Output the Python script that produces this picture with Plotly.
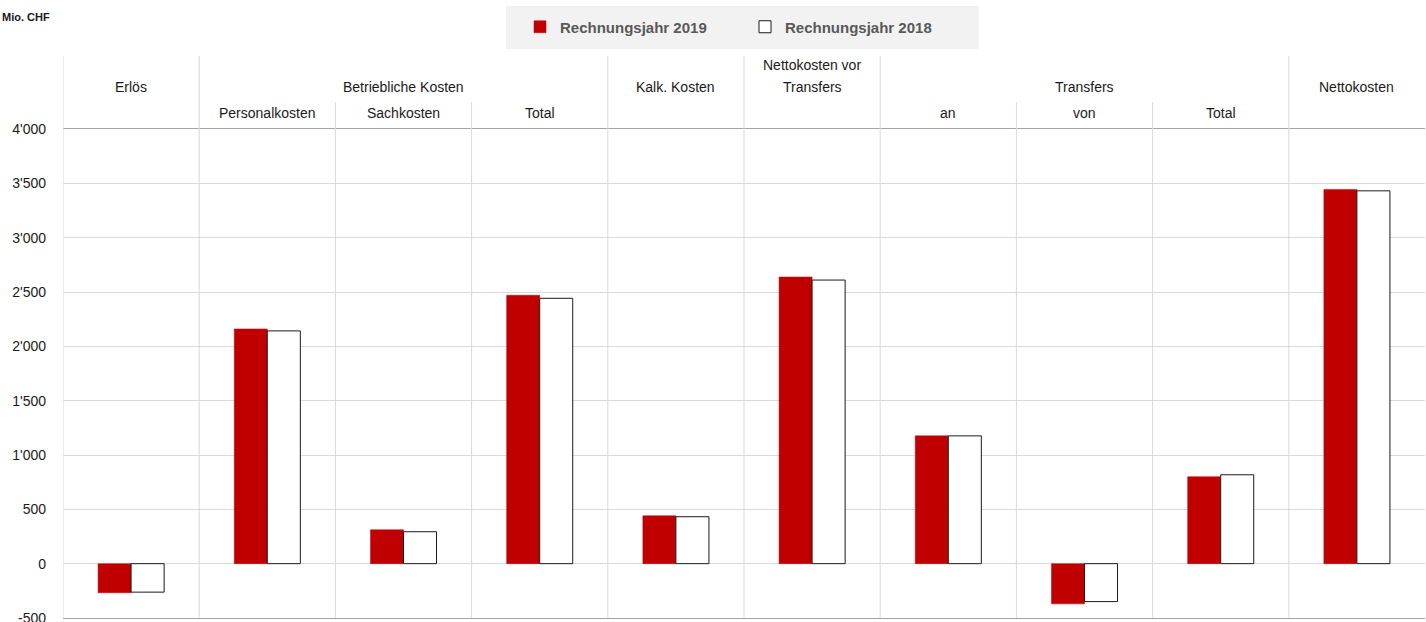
import plotly.graph_objects as go

# ---- data ----
positions = list(range(10))
sub_labels = ["", "Personalkosten", "Sachkosten", "Total", "", "", "an", "von", "Total", ""]
group_labels = ["Erlös", "Betriebliche Kosten", "Kalk. Kosten", "Nettokosten vor<br>Transfers", "Transfers", "Nettokosten"]
group_start = [0, 1, 4, 5, 6, 9]
group_end = [0, 3, 4, 5, 8, 9]
values_2019 = [-268, 2160, 312, 2470, 441, 2638, 1176, -370, 800, 3444]
values_2018 = [-262, 2142, 294, 2442, 432, 2610, 1176, -349, 818, 3431]
tick_vals = [-500, 0, 500, 1000, 1500, 2000, 2500, 3000, 3500, 4000]
tick_text = ["-500", "0", "500", "1'000", "1'500", "2'000", "2'500", "3'000", "3'500", "4'000"]
series_names = ["Rechnungsjahr 2019", "Rechnungsjahr 2018"]

W, H = 1426, 622
L, R, T, B = 63, 1, 129, 4
plot_h = H - T - B
plot_w = W - L - R


def py(pix):
    """pixel y (from top) -> paper y"""
    return (H - B - pix) / plot_h


def px(pix):
    return (pix - L) / plot_w


FONT = "Liberation Sans"
TXT = "#1a1a1a"
GRID = "#d9d9d9"

fig = go.Figure()
fig.add_trace(go.Bar(
    x=positions, y=values_2019, name=series_names[0],
    marker=dict(color="#C00000", line=dict(color="#C00000", width=0.5)),
))
fig.add_trace(go.Bar(
    x=positions, y=values_2018, name=series_names[1],
    marker=dict(color="#FFFFFF", line=dict(color="#1a1a1a", width=1)),
))

shapes = []
# legend background box
shapes.append(dict(type="rect", xref="paper", yref="paper",
                   x0=px(506), x1=px(979), y0=py(49), y1=py(6),
                   fillcolor="#f2f2f2", line=dict(width=0), layer="below"))
# left axis line
shapes.append(dict(type="line", xref="x", yref="paper", x0=-0.5, x1=-0.5,
                   y0=0, y1=py(56), line=dict(color=GRID, width=1)))
# category boundaries
full_bounds = set(group_start[1:])
for i in range(1, 10):
    top = py(56) if i in full_bounds else py(102)
    shapes.append(dict(type="line", xref="x", yref="paper", x0=i - 0.5, x1=i - 0.5,
                       y0=0, y1=top, line=dict(color=GRID, width=1)))

annotations = []
for lab, s, e in zip(group_labels, group_start, group_end):
    lines = lab.split("<br>")
    ys = [65, 87] if len(lines) == 2 else [87]
    for ln, yy in zip(lines, ys):
        annotations.append(dict(x=(s + e) / 2, y=py(yy), xref="x", yref="paper", text=ln,
                                showarrow=False, xanchor="center", yanchor="middle",
                                font=dict(family=FONT, size=14, color=TXT)))
for p, lab in zip(positions, sub_labels):
    if lab:
        annotations.append(dict(x=p, y=py(113), xref="x", yref="paper", text=lab,
                                showarrow=False, xanchor="center", yanchor="middle",
                                font=dict(family=FONT, size=14, color=TXT)))
annotations.append(dict(x=px(0), y=py(17), xref="paper", yref="paper", text="<b>Mio. CHF</b>",
                        showarrow=False, xanchor="left", yanchor="middle",
                        font=dict(family=FONT, size=11, color=TXT)))

fig.update_layout(
    width=W, height=H,
    margin=dict(l=L, r=R, t=T, b=B, pad=0, autoexpand=False),
    plot_bgcolor="white", paper_bgcolor="white",
    barmode="group", bargap=0.515, bargroupgap=0,
    showlegend=True,
    legend=dict(orientation="h", x=px(520), xanchor="left", y=py(27), yanchor="middle",
                bgcolor="rgba(0,0,0,0)", itemwidth=30, entrywidth=180, entrywidthmode="pixels",
                font=dict(family=FONT, size=15, color="#595959", weight="bold"),
                traceorder="normal", itemclick=False, itemdoubleclick=False),
    xaxis=dict(range=[-0.5, 9.5], showticklabels=False, showgrid=False, zeroline=False,
               showline=True, linecolor="#a6a6a6", linewidth=1, mirror=True, fixedrange=True,
               automargin=False),
    yaxis=dict(range=[-500, 4000], tickvals=tick_vals, ticktext=tick_text,
               showgrid=True, gridcolor=GRID, gridwidth=1,
               zeroline=True, zerolinecolor=GRID, zerolinewidth=1,
               showline=False, ticks="", ticklabelstandoff=16, ticklabeloverflow="allow",
               automargin=False,
               tickfont=dict(family=FONT, size=14, color=TXT), fixedrange=True),
    shapes=shapes, annotations=annotations,
)

fig.write_html("out.html", config={"displayModeBar": False},
               post_script="document.body.style.margin='0';")
